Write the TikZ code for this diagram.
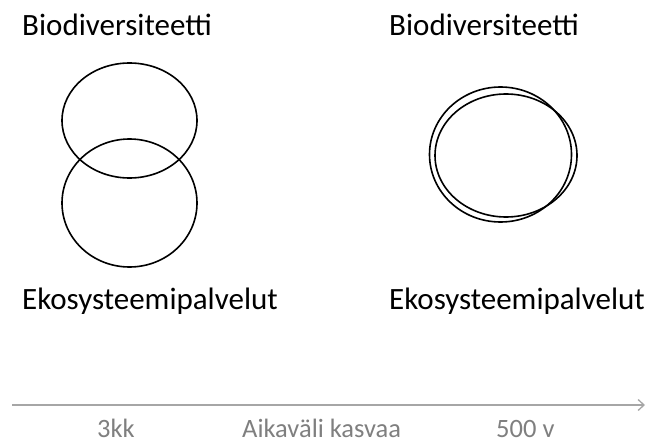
\documentclass[tikz,border=0pt]{standalone}
\usepackage{fontspec}
\setmainfont{Carlito}
\usetikzlibrary{arrows.meta}
\definecolor{axisgray}{HTML}{A6A6A6}
\definecolor{labelgray}{HTML}{7F7F7F}
\tikzset{
  bigtext/.style={anchor=base west, inner sep=0pt, font=\fontsize{31}{36}\selectfont, text=black},
  axistext/.style={anchor=base west, inner sep=0pt, font=\fontsize{26.5}{30}\selectfont, text=labelgray},
  ring/.style={draw=black, line width=1.6pt},
  axisline/.style={draw=axisgray, line width=1.3pt, -{Straight Barb[length=6pt, width=11pt, line width=1.3pt]}}
}
\begin{document}
\begin{tikzpicture}[x=1pt, y=-1pt]
\useasboundingbox (0,0) rectangle (650,444);
% titles
\node[bigtext] (bioL) at (22,36) {Biodiversiteetti};
\node[bigtext] (bioR) at (389,36) {Biodiversiteetti};
\node[bigtext] (ekoL) at (22,309) {Ekosysteemipalvelut};
\node[bigtext] (ekoR) at (389,309) {Ekosysteemipalvelut};
% left: two overlapping ellipses
\draw[ring] (129.5,120.5) ellipse [x radius=67.5, y radius=57.5];
\draw[ring] (129.5,203) ellipse [x radius=67.5, y radius=64];
% right: almost coinciding ellipses
\draw[ring] (500.5,154.5) ellipse [x radius=71, y radius=67.5];
\draw[ring] (506,155.5) ellipse [x radius=71, y radius=61.5];
% time axis
\coordinate (axStart) at (12,405);
\coordinate (axEnd) at (645,405);
\draw[axisline] (axStart) -- (axEnd);
\node[axistext] (t1) at (97,437) {3kk};
\node[axistext] (t2) at (242,437) {Aikaväli kasvaa};
\node[axistext] (t3) at (496,437) {500 v};
\end{tikzpicture}
\end{document}
